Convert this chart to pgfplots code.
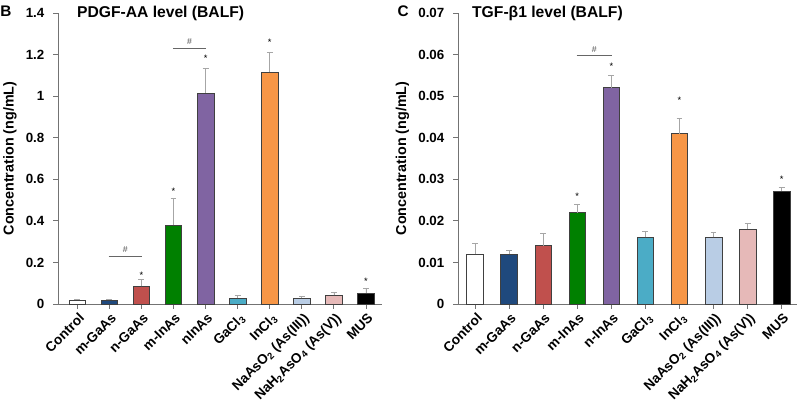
\documentclass[border=0pt]{standalone}
\usepackage{fontspec}
\setmainfont{Liberation Sans}
\usepackage{pgfplots}
\pgfplotsset{compat=1.18}
\definecolor{cmgaas}{HTML}{1F497D}
\definecolor{cngaas}{HTML}{C0504D}
\definecolor{cminas}{HTML}{008000}
\definecolor{cninas}{HTML}{8064A2}
\definecolor{cgacl}{HTML}{4BACC6}
\definecolor{cincl}{HTML}{F79646}
\definecolor{cnaaso}{HTML}{B9CDE5}
\definecolor{cnah}{HTML}{E6B9B8}
\pgfplotsset{
  mybar/.style={fill=#1, draw=black!75, line width=0.5pt,
    error bars/.cd, y dir=plus, y explicit,
    error bar style={black!35, line width=0.5pt},
    error mark options={black!35, rotate=90, mark size=2.2pt, line width=0.5pt}},
  panel/.style={
    scale only axis,
    anchor=south west,
    ybar, bar width=12.5pt, bar shift=0pt,
    axis lines*=left,
    axis line style={black!55, line width=0.6pt},
    tick style={black!55, line width=0.6pt},
    tick align=outside, major tick length=3.75pt,
    xtick={0,...,9},
    xticklabels={Control, m-GaAs, n-GaAs, m-InAs, nInAs, GaCl\textsubscript{3}, InCl\textsubscript{3},
      NaAsO\textsubscript{2} (As(III)), NaH\textsubscript{2}AsO\textsubscript{4} (As(V)), MUS},
    x tick label style={rotate=45, anchor=north east, inner sep=1pt, yshift=-1pt, font=\fontsize{10.2}{12}\selectfont\bfseries},
    y tick label style={xshift=-3pt, font=\fontsize{10}{12}\selectfont\bfseries},
    /pgf/number format/assume math mode=true,
    scaled y ticks=false,
    ylabel={Concentration (ng/mL)},
    ylabel style={font=\fontsize{10.75}{13}\selectfont\bfseries},
    ymin=0,
    clip=false,
  }
}
\begin{document}
\begin{tikzpicture}
\path[use as bounding box] (0,0) rectangle (600pt,302.25pt);
\node[anchor=north west, inner sep=0pt, font=\fontsize{11.5}{13}\selectfont\bfseries] at (0pt,298pt) {B};
\node[anchor=north west, inner sep=0pt, font=\fontsize{11.5}{13}\selectfont\bfseries] at (298pt,298pt) {C};
% Left panel
\begin{axis}[panel, at={(43.5pt,74.25pt)}, width=243pt, height=218.25pt,
  xmin=-0.6, xmax=9.5, ymax=1.4, ytick={0,0.2,...,1.4},
  yticklabels={0,0.2,0.4,0.6,0.8,1,1.2,1.4}]
\addplot[mybar=white] coordinates {(0,0.02) +- (0,0.002)};
\addplot[mybar=cmgaas] coordinates {(1,0.02) +- (0,0.002)};
\addplot[mybar=cngaas] coordinates {(2,0.085) +- (0,0.033)};
\addplot[mybar=cminas] coordinates {(3,0.38) +- (0,0.13)};
\addplot[mybar=cninas] coordinates {(4,1.015) +- (0,0.12)};
\addplot[mybar=cgacl] coordinates {(5,0.028) +- (0,0.012)};
\addplot[mybar=cincl] coordinates {(6,1.115) +- (0,0.095)};
\addplot[mybar=cnaaso] coordinates {(7,0.027) +- (0,0.009)};
\addplot[mybar=cnah] coordinates {(8,0.042) +- (0,0.016)};
\addplot[mybar=black] coordinates {(9,0.053) +- (0,0.022)};
\node[font=\fontsize{7}{8}\selectfont, inner sep=0pt] at (axis cs:2,0.14) {*};
\node[font=\fontsize{7}{8}\selectfont, inner sep=0pt] at (axis cs:3,0.54) {*};
\node[font=\fontsize{7}{8}\selectfont, inner sep=0pt] at (axis cs:4,1.18) {*};
\node[font=\fontsize{7}{8}\selectfont, inner sep=0pt] at (axis cs:6,1.26) {*};
\node[font=\fontsize{7}{8}\selectfont, inner sep=0pt] at (axis cs:9,0.11) {*};
\draw[black!60, line width=0.6pt] (axis cs:0.98,0.23) -- (axis cs:2.02,0.23);
\node[font=\fontsize{6.5}{8}\selectfont, inner sep=0pt, black!70] at (axis cs:1.5,0.262) {\#};
\draw[black!60, line width=0.6pt] (axis cs:2.98,1.23) -- (axis cs:4.02,1.23);
\node[font=\fontsize{6.5}{8}\selectfont, inner sep=0pt, black!70] at (axis cs:3.5,1.262) {\#};
\node[anchor=west, inner sep=0pt, font=\fontsize{11.75}{14}\selectfont\bfseries] at (rel axis cs:0.058,1) {PDGF-AA level (BALF)};
\end{axis}
% Right panel
\begin{axis}[panel, at={(343.5pt,74.25pt)}, width=254.25pt, height=218.25pt,
  xmin=-0.5, xmax=9.45, ymax=0.07, ytick={0,0.01,...,0.07},
  yticklabels={0,0.01,0.02,0.03,0.04,0.05,0.06,0.07},
  xticklabels={Control, m-GaAs, n-GaAs, m-InAs, n-InAs, GaCl\textsubscript{3}, InCl\textsubscript{3},
      NaAsO\textsubscript{2} (As(III)), NaH\textsubscript{2}AsO\textsubscript{4} (As(V)), MUS}]
\addplot[mybar=white] coordinates {(0,0.012) +- (0,0.0025)};
\addplot[mybar=cmgaas] coordinates {(1,0.012) +- (0,0.0008)};
\addplot[mybar=cngaas] coordinates {(2,0.014) +- (0,0.003)};
\addplot[mybar=cminas] coordinates {(3,0.022) +- (0,0.002)};
\addplot[mybar=cninas] coordinates {(4,0.052) +- (0,0.003)};
\addplot[mybar=cgacl] coordinates {(5,0.016) +- (0,0.0015)};
\addplot[mybar=cincl] coordinates {(6,0.041) +- (0,0.0037)};
\addplot[mybar=cnaaso] coordinates {(7,0.016) +- (0,0.0013)};
\addplot[mybar=cnah] coordinates {(8,0.018) +- (0,0.0013)};
\addplot[mybar=black] coordinates {(9,0.0272) +- (0,0.0009)};
\node[font=\fontsize{7}{8}\selectfont, inner sep=0pt] at (axis cs:3,0.0258) {*};
\node[font=\fontsize{7}{8}\selectfont, inner sep=0pt] at (axis cs:4,0.0571) {*};
\node[font=\fontsize{7}{8}\selectfont, inner sep=0pt] at (axis cs:6,0.0489) {*};
\node[font=\fontsize{7}{8}\selectfont, inner sep=0pt] at (axis cs:9,0.0301) {*};
\draw[black!60, line width=0.6pt] (axis cs:2.98,0.0597) -- (axis cs:4.02,0.0597);
\node[font=\fontsize{6.5}{8}\selectfont, inner sep=0pt, black!70] at (axis cs:3.5,0.0612) {\#};
\node[anchor=west, inner sep=0pt, font=\fontsize{11.75}{14}\selectfont\bfseries] at (rel axis cs:0.041,1) {TGF-β1 level (BALF)};
\end{axis}
\end{tikzpicture}
\end{document}
